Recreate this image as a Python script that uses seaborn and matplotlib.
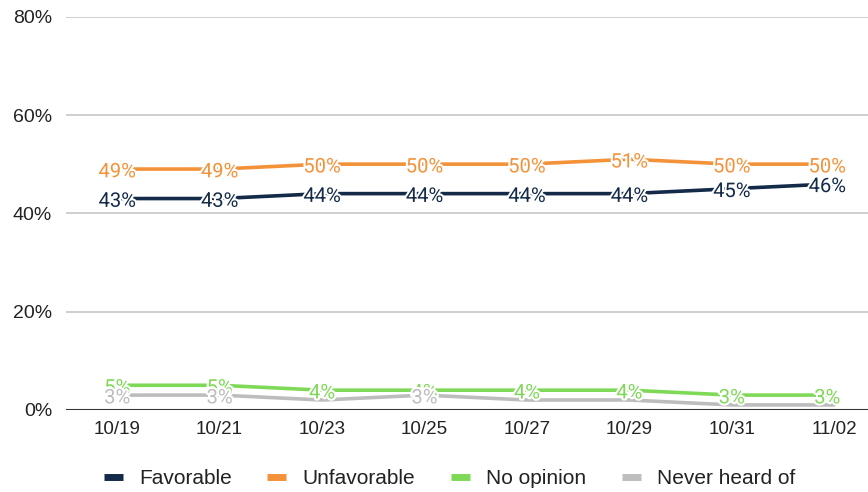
import pandas as pd
import matplotlib
matplotlib.use("Agg")
import matplotlib.pyplot as plt
import matplotlib.patheffects as pe
import seaborn as sns

# data
dates = ["10/19", "10/21", "10/23", "10/25", "10/27", "10/29", "10/31", "11/02"]
favorable = [43, 43, 44, 44, 44, 44, 45, 46]
unfavorable = [49, 49, 50, 50, 50, 51, 50, 50]
no_opinion = [5, 5, 4, 4, 4, 4, 3, 3]
never_heard = [3, 3, 2, 3, 2, 2, 1, 1]
# the reference only prints some of the "never heard of" labels
never_heard_shown = [True, True, False, True, False, False, False, False]

series_names = ["Favorable", "Unfavorable", "No opinion", "Never heard of"]
series_values = [favorable, unfavorable, no_opinion, never_heard]
colors = ["#132A48", "#F4923A", "#7ED957", "#BDBDBD"]

rows = []
for name, vals in zip(series_names, series_values):
    for i, v in enumerate(vals):
        rows.append({"pos": i, "date": dates[i], "value": v, "series": name})
df = pd.DataFrame(rows)

sns.set_style("white")
plt.rcParams["font.family"] = ["Liberation Sans", "DejaVu Sans"]

fig = plt.figure(figsize=(8.68, 4.92), dpi=100)
ax = fig.add_axes([0.076, 0.167, 0.924, 0.799])

# draw lines back to front so the grey sits under the green
line_order = ["Never heard of", "No opinion", "Favorable", "Unfavorable"]
palette = dict(zip(series_names, colors))
for name in line_order:
    sub = df[df["series"] == name]
    sns.lineplot(data=sub, x="pos", y="value", color=palette[name], linewidth=2.6,
                 ax=ax, legend=False, zorder=3)

# data labels with a white halo; grey labels end up on top like the reference
halo = [pe.withStroke(linewidth=3, foreground="white")]
label_order = ["No opinion", "Never heard of", "Favorable", "Unfavorable"]
for k, name in enumerate(label_order):
    sub = df[df["series"] == name].reset_index(drop=True)
    for i, r in sub.iterrows():
        if name == "Never heard of" and not never_heard_shown[i]:
            continue
        dx = -5 if i == len(dates) - 1 else 0
        ax.annotate(f"{r['value']}%", (r["pos"], r["value"]), xytext=(dx, -2),
                    textcoords="offset points", ha="center", va="center",
                    fontsize=14.5, color=palette[name], family="Roboto",
                    path_effects=halo, zorder=5 + k)

ax.set_xlim(-0.5, 7.33)
ax.set_ylim(0, 80)
ax.set_yticks([0, 20, 40, 60, 80])
ax.set_yticklabels([f"{t}%" for t in [0, 20, 40, 60, 80]], fontsize=14, color="#222222")
ax.set_xticks(range(len(dates)))
ax.set_xticklabels(dates, fontsize=13.5, color="#222222")
ax.tick_params(axis="both", length=0, pad=8)
ax.tick_params(axis="y", pad=10)
ax.set_xlabel("")
ax.set_ylabel("")

for t in [20, 40, 60, 80]:
    ax.axhline(t, color="#CCCCCC", linewidth=1.3, zorder=1)
ax.axhline(0, color="#333333", linewidth=1.5, zorder=2)
for s in ax.spines.values():
    s.set_visible(False)

handles = [plt.Line2D([0], [0], color=c, linewidth=5, solid_capstyle="butt") for c in colors]
fig.legend(handles, series_names, loc="center", bbox_to_anchor=(0.518, 0.027), ncol=4,
           frameon=False, fontsize=15, handlelength=0.9, handletextpad=0.8,
           columnspacing=1.7, labelcolor="#222222")

fig.savefig("out.png", dpi=100)
